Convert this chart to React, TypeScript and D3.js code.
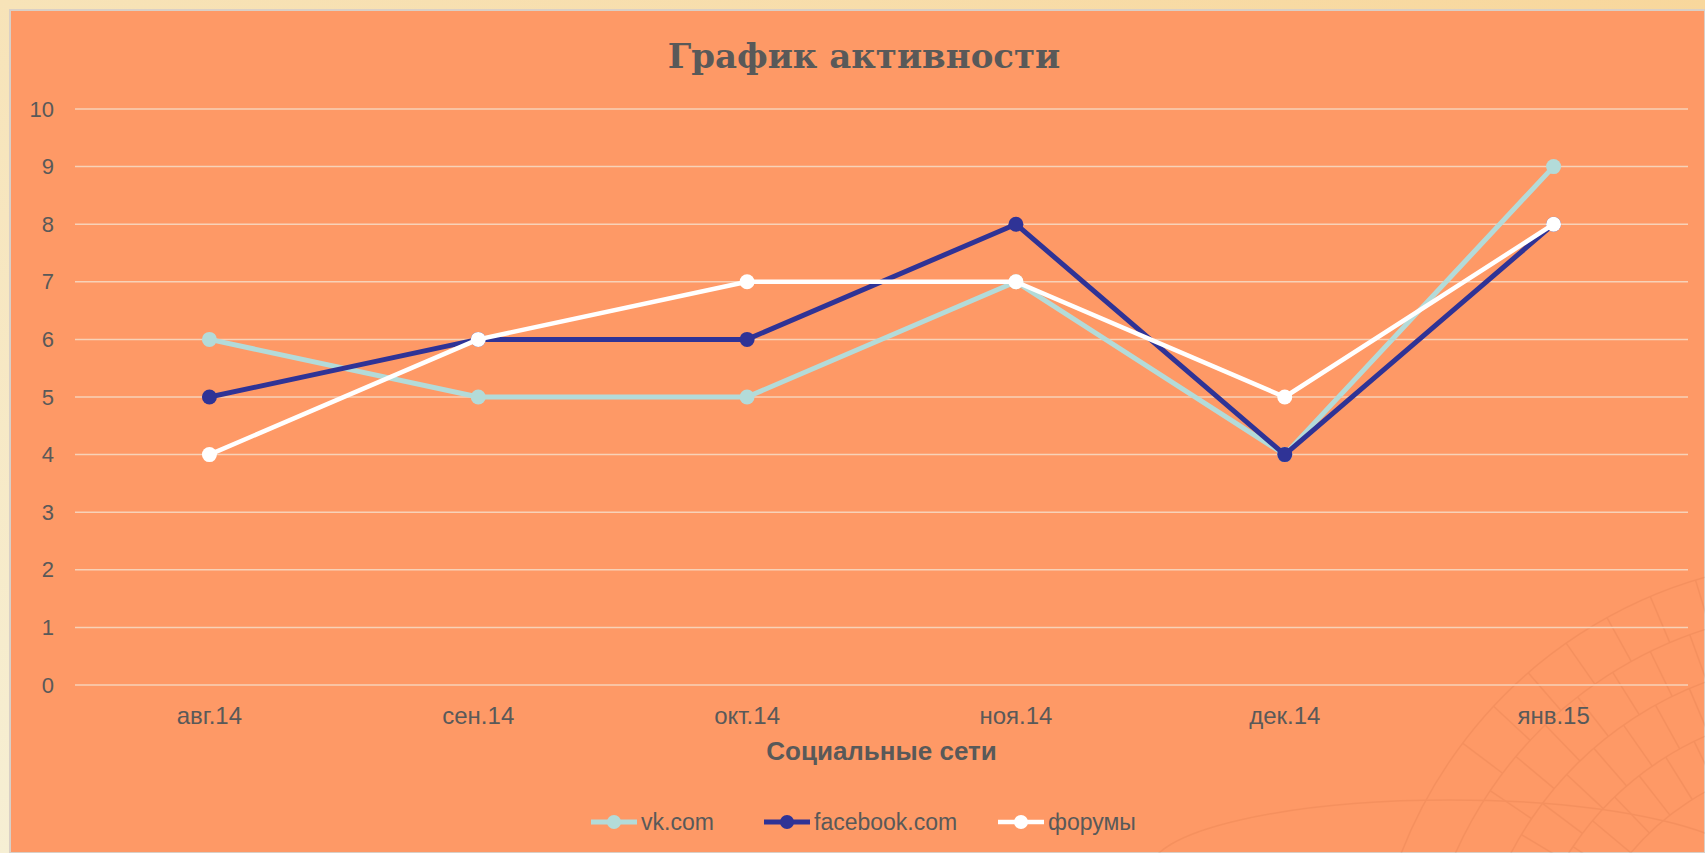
import * as d3 from 'd3';
import { useEffect } from 'react';

const months = ['авг.14', 'сен.14', 'окт.14', 'ноя.14', 'дек.14', 'янв.15'];
const vkValues = [6, 5, 5, 7, 4, 9];
const facebookValues = [5, 6, 6, 8, 4, 8];
const forumValues = [4, 6, 7, 7, 5, 8];
const yTicks = [0, 1, 2, 3, 4, 5, 6, 7, 8, 9, 10];

const series = [
  { name: 'vk.com', values: vkValues, color: '#b3dbd9', width: 5 },
  { name: 'facebook.com', values: facebookValues, color: '#2f3396', width: 5 },
  { name: 'форумы', values: forumValues, color: '#ffffff', width: 4.5 },
];

const W = 1705;
const H = 853;
const plot = { left: 75, right: 1688, top: 109, bottom: 685 };
const textColor = '#595959';
const sans = "'Liberation Sans', Arial, sans-serif";

export default function App() {
  useEffect(() => {
    document.body.style.margin = '0';
  }, []);

  const x = d3.scaleBand<string>().domain(months).range([plot.left, plot.right]);
  const y = d3.scaleLinear().domain([0, 10]).range([plot.bottom, plot.top]);
  const cx = (i: number) => (x(months[i]) ?? 0) + x.bandwidth() / 2;
  const line = d3
    .line<number>()
    .x((_, i) => cx(i))
    .y((d) => y(d));

  // faint engraving in the lower-right corner
  const arcs = d3.range(0, 5).map((i) => 260 + i * 50);
  const spokes = d3.range(-62, 8, 6);

  const legendItems = [
    { ...series[0], x: 591 },
    { ...series[1], x: 764 },
    { ...series[2], x: 998 },
  ];

  return (
    <svg width={W} height={H} style={{ display: 'block' }}>
      <defs>
        <linearGradient id="outer" x1="1" y1="0" x2="0" y2="1">
          <stop offset="0" stopColor="#f8d79c" />
          <stop offset="1" stopColor="#f6efd4" />
        </linearGradient>
        <clipPath id="panelClip">
          <rect x={10} y={10} width={W - 10} height={H - 10} />
        </clipPath>
      </defs>
      <rect width={W} height={H} fill="url(#outer)" />
      <rect x={10} y={10} width={W - 10} height={H - 10} fill="#fe9966" stroke="#d9cfc6" strokeWidth={2} />

      <g clipPath="url(#panelClip)" opacity={0.09} fill="none" stroke="#a0401a" strokeWidth={1.5}>
        {arcs.map((r) => (
          <path
            key={r}
            d={d3.arc()({ innerRadius: r, outerRadius: r, startAngle: -1.35, endAngle: 0.2 }) ?? ''}
            transform="translate(1830,1020)"
          />
        ))}
        {spokes.map((a) =>
          arcs.slice(0, -1).map((r, j) => {
            const t = ((a + j * 3) * Math.PI) / 180 - Math.PI / 2;
            return (
              <line
                key={`${a}-${r}`}
                x1={1830 + r * Math.cos(t)}
                y1={1020 + r * Math.sin(t)}
                x2={1830 + (r + 50) * Math.cos(t)}
                y2={1020 + (r + 50) * Math.sin(t)}
              />
            );
          })
        )}
        <ellipse cx={1450} cy={870} rx={300} ry={70} />
      </g>

      <text
        x={864}
        y={56}
        textAnchor="middle"
        dominantBaseline="central"
        fontFamily="'DejaVu Serif', serif"
        fontWeight="bold"
        fontSize={34}
        fill={textColor}
      >
        График активности
      </text>

      {yTicks.map((t) => (
        <g key={t}>
          <line x1={plot.left} x2={plot.right} y1={y(t)} y2={y(t)} stroke="#f7d2b8" strokeWidth={1.5} />
          <text
            x={54}
            y={y(t)}
            textAnchor="end"
            dominantBaseline="central"
            fontFamily={sans}
            fontSize={22}
            fill={textColor}
          >
            {t}
          </text>
        </g>
      ))}

      {months.map((m, i) => (
        <text
          key={m}
          x={cx(i)}
          y={715}
          textAnchor="middle"
          dominantBaseline="central"
          fontFamily={sans}
          fontSize={24}
          fill={textColor}
        >
          {m}
        </text>
      ))}

      <text
        x={(plot.left + plot.right) / 2}
        y={751}
        textAnchor="middle"
        dominantBaseline="central"
        fontFamily={sans}
        fontWeight="bold"
        fontSize={26}
        fill={textColor}
      >
        Социальные сети
      </text>

      {series.map((s) => (
        <g key={s.name}>
          <path d={line(s.values) ?? ''} fill="none" stroke={s.color} strokeWidth={s.width} strokeLinejoin="round" />
          {s.values.map((v, i) => (
            <circle key={i} cx={cx(i)} cy={y(v)} r={7.5} fill={s.color} />
          ))}
        </g>
      ))}

      {legendItems.map((s) => (
        <g key={s.name} transform={`translate(${s.x},822)`}>
          <line x1={0} x2={46} y1={0} y2={0} stroke={s.color} strokeWidth={s.width} />
          <circle cx={23} cy={0} r={7} fill={s.color} />
          <text x={50} y={0} dominantBaseline="central" fontFamily={sans} fontSize={23} fill={textColor}>
            {s.name}
          </text>
        </g>
      ))}
    </svg>
  );
}
